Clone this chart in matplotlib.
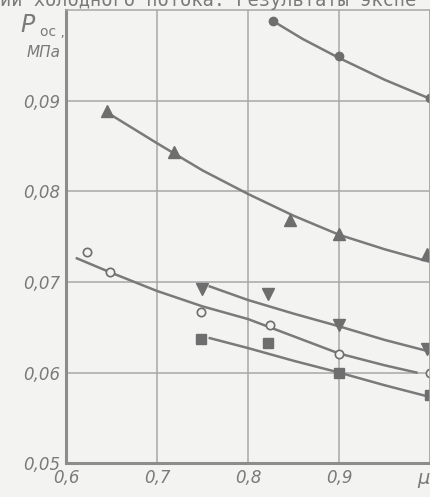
import numpy as np
import matplotlib
matplotlib.use("Agg")
import matplotlib.pyplot as plt

# measured points (mu, P_oc in MPa)
mu_a = [0.827, 0.900, 1.000]
p_a = [0.0988, 0.0949, 0.0903]

mu_b = [0.645, 0.719, 0.846, 0.900, 0.997]
p_b = [0.0889, 0.0843, 0.0768, 0.0753, 0.0731]

mu_c = [0.749, 0.822, 0.900, 0.997]
p_c = [0.0692, 0.0687, 0.0652, 0.0626]

mu_d = [0.623, 0.648, 0.748, 0.824, 0.900, 1.000]
p_d = [0.0733, 0.0711, 0.0667, 0.0653, 0.0620, 0.0599]

mu_e = [0.748, 0.822, 0.900, 1.000]
p_e = [0.0637, 0.0633, 0.0600, 0.0575]

# averaging curves
cmu_a = [0.827, 0.860, 0.900, 0.950, 1.000]
cp_a = [0.0988, 0.0968, 0.0947, 0.0923, 0.0902]

cmu_b = [0.645, 0.700, 0.750, 0.800, 0.850, 0.900, 0.950, 1.000]
cp_b = [0.0887, 0.0853, 0.0823, 0.0797, 0.0773, 0.0752, 0.0736, 0.0722]

cmu_c = [0.758, 0.800, 0.850, 0.900, 0.950, 1.000]
cp_c = [0.0695, 0.0680, 0.0665, 0.0651, 0.0636, 0.0623]

cmu_d = [0.612, 0.650, 0.700, 0.750, 0.800, 0.850, 0.900, 0.950, 0.985]
cp_d = [0.0726, 0.0710, 0.0690, 0.0673, 0.0659, 0.0640, 0.0621, 0.0608, 0.0600]

cmu_e = [0.758, 0.800, 0.850, 0.900, 0.950, 1.000]
cp_e = [0.0638, 0.0627, 0.0613, 0.0600, 0.0586, 0.0573]

xticks = [0.6, 0.7, 0.8, 0.9, 1.0]
xlabels = ["0,6", "0,7", "0,8", "0,9", "μ"]
yticks = [0.05, 0.06, 0.07, 0.08, 0.09]
ylabels = ["0,05", "0,06", "0,07", "0,08", "0,09"]

bg = "#f3f3f1"
ink = "#7a7a7a"
mark = "#6e6e6e"
grid = "#a8a8a8"

fig = plt.figure(figsize=(4.31, 4.97), dpi=100, facecolor=bg)
ax = fig.add_axes([0.153, 0.068, 0.845, 0.912], facecolor=bg)

ax.set_xlim(0.6, 1.0)
ax.set_ylim(0.05, 0.1)

ax.set_xticks(xticks)
ax.set_xticklabels(xlabels)
ax.set_yticks(yticks)
ax.set_yticklabels(ylabels)
ax.tick_params(length=0, pad=4, labelcolor=ink, labelsize=12)
for lab in ax.get_xticklabels() + ax.get_yticklabels():
    lab.set_fontstyle("italic")
mu_lab = ax.get_xticklabels()[-1]
mu_lab.set_horizontalalignment("right")
mu_lab.set_fontsize(14)

ax.grid(True, color=grid, lw=1.1)
for side in ["left", "bottom"]:
    ax.spines[side].set_color("#8c8c8c")
    ax.spines[side].set_linewidth(2.2)
for side in ["top", "right"]:
    ax.spines[side].set_color(grid)
    ax.spines[side].set_linewidth(1.1)

lw = 1.8
ax.plot(cmu_a, cp_a, color=ink, lw=lw, clip_on=False)
ax.plot(cmu_b, cp_b, color=ink, lw=lw, clip_on=False)
ax.plot(cmu_c, cp_c, color=ink, lw=lw, clip_on=False)
ax.plot(cmu_d, cp_d, color=ink, lw=lw, clip_on=False)
ax.plot(cmu_e, cp_e, color=ink, lw=lw, clip_on=False)

ax.plot(mu_a, p_a, "o", ms=6, color=mark, mec=mark, clip_on=False)
ax.plot(mu_b, p_b, "^", ms=8, color=mark, mec=mark, clip_on=False)
ax.plot(mu_c, p_c, "v", ms=8, color=mark, mec=mark, clip_on=False)
ax.plot(mu_d, p_d, "o", ms=6, mfc=bg, mec=mark, mew=1.2, clip_on=False)
ax.plot(mu_e, p_e, "s", ms=7, color=mark, mec=mark, clip_on=False)

# axis title in the corner
fig.text(0.048, 0.935, "P", fontsize=17, style="italic", color=ink)
fig.text(0.092, 0.928, "oc ,", fontsize=10, color=ink)
fig.text(0.062, 0.885, "МПа", fontsize=11, style="italic", color=ink)

# the line of book text cut by the scan
fig.text(0.0, 0.998, "ии холодного потока. Результаты экспе",
         fontsize=13.5, family="DejaVu Sans Mono", color=ink,
         va="center", ha="left")

fig.savefig("out.png", dpi=100, facecolor=bg)
